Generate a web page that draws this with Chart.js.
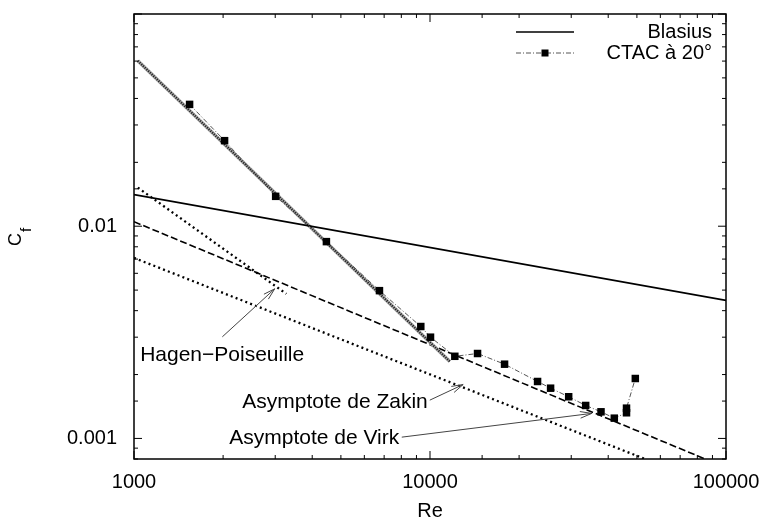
<!DOCTYPE html>
<html>
<head>
<meta charset="utf-8">
<script src="https://cdn.jsdelivr.net/npm/chart.js@4"></script>
<style>
  html, body { margin: 0; padding: 0; background: #fff; }
</style>
</head>
<body>
<canvas id="grafico" width="766" height="521"></canvas>
<script>
// CTAC à 20° (points relevés)
const reCtac = [1541, 2023, 3010, 4467, 6749, 9309, 10040, 12130, 14475, 17860, 23090, 25550, 29410, 33570, 37820, 41940, 46120, 46120, 49390];
const cfCtac = [0.0375, 0.0253, 0.01383, 0.00846, 0.00497, 0.003368, 0.0030, 0.002438, 0.002513, 0.002238, 0.001855, 0.001725, 0.001572, 0.00143, 0.001335, 0.001246, 0.001321, 0.001389, 0.001916];

// droites (extrémités)
const reBlasius = [1000, 100000];
const cfBlasius = [0.0141, 0.00447];
const reFit = [1030, 11670];
const cfFit = [0.0602, 0.002305];
const reHagen = [1030, 3270];
const cfHagen = [0.0152, 0.0048];
const reVirk = [1000, 85000];
const cfVirk = [0.0105, 0.0008];
const reZakin = [1000, 53270];
const cfZakin = [0.00709, 0.0008];

// axes
const xMajor = [1000, 10000, 100000];
const xMajorLabels = ["1000", "10000", "100000"];
const yMajor = [0.001, 0.01];
const yMajorLabels = ["0.001", "0.01"];

// annotations
const noteText = ["Hagen\u2212Poiseuille", "Asymptote de Zakin", "Asymptote de Virk"];
const noteRe = [1049, 9830, 7874];
const noteCf = [0.002312, 0.001395, 0.000937];
const noteAlign = ["left", "right", "right"];
const arrowFromRe = [1988, 9985, 8028];
const arrowFromCf = [0.003012, 0.001515, 0.001014];
const arrowToRe = [2987, 12940, 35180];
const arrowToCf = [0.005067, 0.001795, 0.001312];

const police = "'Liberation Sans', Arial, sans-serif";

function pts(xs, ys) {
    return xs.map((x, i) => ({ x: x, y: ys[i] }));
}

function findLabel(v, majors, labels) {
    for (let i = 0; i < majors.length; i++) {
        if (Math.abs(v / majors[i] - 1) < 1e-6) return labels[i];
    }
    return "";
}

function isMajor(v) {
    const l = Math.log10(v);
    return Math.abs(l - Math.round(l)) < 1e-6;
}

const decor = {
    id: "decor",
    afterDraw(chart) {
        const ctx = chart.ctx;
        const a = chart.chartArea;
        const sx = chart.scales.x;
        const sy = chart.scales.y;

        function seg(x1, y1, x2, y2) {
            ctx.beginPath();
            ctx.moveTo(x1, y1);
            ctx.lineTo(x2, y2);
            ctx.stroke();
        }

        ctx.save();
        ctx.strokeStyle = "#000";
        ctx.lineWidth = 1;
        ctx.setLineDash([]);

        // graduations vers l'intérieur, sur les 4 côtés
        sx.ticks.forEach(t => {
            const px = sx.getPixelForValue(t.value);
            const len = isMajor(t.value) ? 8 : 4;
            seg(px, a.bottom, px, a.bottom - len);
            seg(px, a.top, px, a.top + len);
        });
        sy.ticks.forEach(t => {
            const py = sy.getPixelForValue(t.value);
            const len = isMajor(t.value) ? 8 : 4;
            seg(a.left, py, a.left + len, py);
            seg(a.right, py, a.right - len, py);
        });

        ctx.lineWidth = 1.5;
        ctx.strokeRect(a.left, a.top, a.right - a.left, a.bottom - a.top);

        // légende
        const dsB = chart.data.datasets[1];
        const dsC = chart.data.datasets[0];
        const lx1 = a.right - 210, lx2 = a.right - 152;
        const rows = [a.top + 18, a.top + 39];

        ctx.lineWidth = dsB.borderWidth;
        ctx.strokeStyle = dsB.borderColor;
        seg(lx1, rows[0], lx2, rows[0]);

        ctx.lineWidth = dsC.borderWidth;
        ctx.strokeStyle = dsC.borderColor;
        ctx.setLineDash(dsC.borderDash);
        seg(lx1, rows[1], lx2, rows[1]);
        ctx.setLineDash([]);
        ctx.fillStyle = "#000";
        ctx.fillRect((lx1 + lx2) / 2 - 3.5, rows[1] - 3.5, 7, 7);

        ctx.font = "20px " + police;
        ctx.fillStyle = "#000";
        ctx.textAlign = "right";
        ctx.textBaseline = "middle";
        ctx.fillText(dsB.label, a.right - 14, rows[0]);
        ctx.fillText(dsC.label, a.right - 14, rows[1]);

        // flèches et textes
        ctx.strokeStyle = "#444";
        ctx.lineWidth = 1;
        ctx.font = "21px " + police;
        for (let i = 0; i < noteText.length; i++) {
            const x1 = sx.getPixelForValue(arrowFromRe[i]);
            const y1 = sy.getPixelForValue(arrowFromCf[i]);
            const x2 = sx.getPixelForValue(arrowToRe[i]);
            const y2 = sy.getPixelForValue(arrowToCf[i]);
            seg(x1, y1, x2, y2);
            const ang = Math.atan2(y2 - y1, x2 - x1);
            const h = 12;
            seg(x2, y2, x2 - h * Math.cos(ang - 0.28), y2 - h * Math.sin(ang - 0.28));
            seg(x2, y2, x2 - h * Math.cos(ang + 0.28), y2 - h * Math.sin(ang + 0.28));

            ctx.textAlign = noteAlign[i];
            ctx.textBaseline = "alphabetic";
            ctx.fillText(noteText[i], sx.getPixelForValue(noteRe[i]), sy.getPixelForValue(noteCf[i]));
        }

        // titres des axes
        ctx.font = "20px " + police;
        ctx.textAlign = "center";
        ctx.textBaseline = "alphabetic";
        ctx.fillText("Re", (a.left + a.right) / 2, 517);

        ctx.translate(21, 246);
        ctx.rotate(-Math.PI / 2);
        ctx.textAlign = "left";
        ctx.font = "18px " + police;
        ctx.fillText("C", 0, 0);
        ctx.font = "15px " + police;
        ctx.fillText("f", 14, 10);

        ctx.restore();
    }
};

const ctx = document.getElementById("grafico").getContext("2d");

new Chart(ctx, {
    type: "line",
    data: {
        datasets: [
            {
                label: "CTAC à 20°",
                data: pts(reCtac, cfCtac),
                borderColor: "#555",
                borderWidth: 1,
                borderDash: [5, 2, 1, 2],
                pointStyle: "rect",
                pointRadius: 5.3,
                pointBackgroundColor: "#000",
                pointBorderWidth: 0
            },
            {
                label: "Blasius",
                data: pts(reBlasius, cfBlasius),
                borderColor: "#000",
                borderWidth: 1.7,
                pointRadius: 0
            },
            {
                label: "fit",
                data: pts(reFit, cfFit),
                borderColor: "#222",
                borderWidth: 2.2,
                borderDash: [1.2, 1.2],
                pointRadius: 0
            },
            {
                label: "fit fond",
                data: pts(reFit, cfFit),
                borderColor: "#a8a8a8",
                borderWidth: 3.6,
                pointRadius: 0
            },
            {
                label: "Hagen-Poiseuille",
                data: pts(reHagen, cfHagen),
                borderColor: "#000",
                borderWidth: 2.3,
                borderDash: [2, 3.2],
                pointRadius: 0
            },
            {
                label: "Virk",
                data: pts(reVirk, cfVirk),
                borderColor: "#000",
                borderWidth: 1.6,
                borderDash: [7, 3],
                pointRadius: 0
            },
            {
                label: "Zakin",
                data: pts(reZakin, cfZakin),
                borderColor: "#000",
                borderWidth: 2.3,
                borderDash: [2, 3.2],
                pointRadius: 0
            }
        ]
    },
    options: {
        responsive: false,
        animation: false,
        devicePixelRatio: 1,
        layout: { padding: { top: 14, right: 40, left: 0, bottom: 0 } },
        plugins: {
            legend: { display: false },
            tooltip: { enabled: false }
        },
        scales: {
            x: {
                type: "logarithmic",
                min: 1000,
                max: 100000,
                grid: { display: false, drawTicks: false },
                border: { display: false },
                ticks: {
                    autoSkip: false,
                    maxRotation: 0,
                    padding: 11,
                    color: "#000",
                    font: { family: police, size: 20 },
                    callback: v => findLabel(v, xMajor, xMajorLabels)
                },
                afterFit: s => {
                    s.height = 62;
                    s.paddingLeft = 0;
                    s.paddingRight = 0;
                }
            },
            y: {
                type: "logarithmic",
                min: 0.0008,
                max: 0.1,
                grid: { display: false, drawTicks: false },
                border: { display: false },
                ticks: {
                    autoSkip: false,
                    padding: 17,
                    color: "#000",
                    font: { family: police, size: 20 },
                    callback: v => findLabel(v, yMajor, yMajorLabels)
                },
                afterFit: s => {
                    s.width = 134;
                    s.paddingTop = 0;
                    s.paddingBottom = 0;
                }
            }
        }
    },
    plugins: [decor]
});
</script>
</body>
</html>
